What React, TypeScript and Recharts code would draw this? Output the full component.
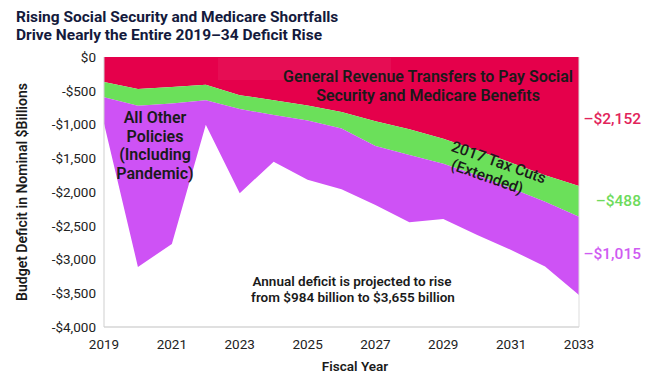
import { AreaChart, Area, XAxis, YAxis, ReferenceLine } from "recharts"

const years = [2019, 2020, 2021, 2022, 2023, 2024, 2025, 2026, 2027, 2028, 2029, 2030, 2031, 2032, 2033]
// $billions, negative = deficit
const generalRevenue = [-370, -474, -445, -410, -565, -640, -720, -815, -950, -1070, -1210, -1380, -1565, -1750, -1910]
const taxCuts = [-225, -247, -245, -232, -207, -219, -220, -245, -370, -381, -370, -370, -380, -393, -455]
const otherPolicies = [-389, -2389, -2080, -363, -1248, -691, -880, -900, -872, -998, -820, -886, -913, -962, -1160]

const yTicks = [0, -500, -1000, -1500, -2000, -2500, -3000, -3500, -4000]
const xTicks = [2019, 2021, 2023, 2025, 2027, 2029, 2031, 2033]

const data = years.map((year, i) => ({
  year,
  generalRevenue: generalRevenue[i],
  taxCuts: taxCuts[i],
  otherPolicies: otherPolicies[i],
}))

const RED = "#E5004B"
const GREEN = "#6BE05A"
const PURPLE = "#CE52F5"
const FONT = "Roboto, 'Liberation Sans', sans-serif"

function fmtY(v: number) {
  if (v === 0) return "$0"
  return "-$" + Math.abs(v).toLocaleString("en-US")
}

export default function App() {
  return (
    <div style={{ position: "absolute", left: 0, top: 0, width: 654, height: 374, background: "#fff", fontFamily: FONT }}>
      <AreaChart
        width={654}
        height={374}
        data={data}
        margin={{ top: 57, right: 75, left: 40, bottom: 17 }}
      >
        <XAxis
          dataKey="year"
          type="number"
          domain={[2019, 2033]}
          ticks={xTicks}
          height={30}
          tickLine={false}
          tickMargin={6}
          axisLine={{ stroke: "#d6d6d6", strokeWidth: 1.5 }}
          tick={{ fontSize: 13.5, fill: "#222", fontFamily: FONT }}
        />
        <XAxis
          xAxisId="top"
          dataKey="year"
          type="number"
          orientation="top"
          domain={[2019, 2033]}
          ticks={years}
          height={0}
          mirror
          tickSize={4}
          tickFormatter={() => ""}
          axisLine={{ stroke: "#e0e0e0" }}
          tickLine={{ stroke: "#a0a0a0" }}
        />
        <YAxis
          domain={[-4000, 0]}
          ticks={yTicks}
          width={64}
          tickLine={false}
          axisLine={{ stroke: "#cfcfcf" }}
          tickFormatter={fmtY}
          tick={{ fontSize: 13.5, fill: "#222", fontFamily: FONT }}
        />
        <Area
          type="linear"
          dataKey="generalRevenue"
          stackId="a"
          stroke="none"
          fill={RED}
          fillOpacity={1}
          isAnimationActive={false}
        />
        <Area
          type="linear"
          dataKey="taxCuts"
          stackId="a"
          stroke="none"
          fill={GREEN}
          fillOpacity={1}
          isAnimationActive={false}
        />
        <Area
          type="linear"
          dataKey="otherPolicies"
          stackId="a"
          stroke="none"
          fill={PURPLE}
          fillOpacity={1}
          isAnimationActive={false}
        />
        <ReferenceLine x={2033} stroke="#dddddd" />
      </AreaChart>

      <svg
        width={654}
        height={374}
        style={{ position: "absolute", left: 0, top: 0, pointerEvents: "none" }}
        fontFamily={FONT}
      >
        <text x={16} y={22} fontSize={15.5} fontWeight={700} fill="#141a3c">
          Rising Social Security and Medicare Shortfalls
        </text>
        <text x={16} y={40} fontSize={15.5} fontWeight={700} fill="#141a3c">
          Drive Nearly the Entire 2019–34 Deficit Rise
        </text>

        {/* faint screen-snip artifact */}
        <rect x={218} y={58} width={173} height={22} fill="#ffffff" opacity={0.05} />

        <g fontSize={16} fontWeight={600} fill="#1a1a1a" textAnchor="middle">
          <text x={428} y={82}>General Revenue Transfers to Pay Social</text>
          <text x={428} y={100.5}>Security and Medicare Benefits</text>
        </g>
        <g fontSize={16} fontWeight={600} fill="#1a1a1a" textAnchor="middle">
          <text x={155} y={123}>All Other</text>
          <text x={155} y={141.5}>Policies</text>
          <text x={155} y={160}>(Including</text>
          <text x={155} y={178.5}>Pandemic)</text>
        </g>
        <g transform="translate(496,170) rotate(19.5)" fontSize={15.5} fontWeight={500} fill="#1a1a1a" textAnchor="middle">
          <text x={0} y={-3}>2017 Tax Cuts</text>
          <text x={-6} y={14.5}>(Extended)</text>
        </g>
        <g fontSize={13.5} fontWeight={600} fill="#1a1a1a" textAnchor="middle">
          <text x={352} y={286}>Annual deficit is projected to rise</text>
          <text x={353} y={302}>from $984 billion to $3,655 billion</text>
        </g>

        <g fontSize={15.5} fontWeight={500} textAnchor="end">
          <text x={641} y={124} fill="#E2235A">–$2,152</text>
          <text x={641} y={206} fill="#6EDB5C">–$488</text>
          <text x={641} y={259} fill="#CF5BF2">–$1,015</text>
        </g>

        <text
          transform="translate(27,192) rotate(-90)"
          textAnchor="middle"
          fontSize={14}
          fontWeight={600}
          fill="#1a1a1a"
        >
          Budget Deficit in Nominal $Billions
        </text>
        <text x={355} y={371} textAnchor="middle" fontSize={13.5} fontWeight={600} fill="#1a1a1a">
          Fiscal Year
        </text>
      </svg>
    </div>
  )
}
